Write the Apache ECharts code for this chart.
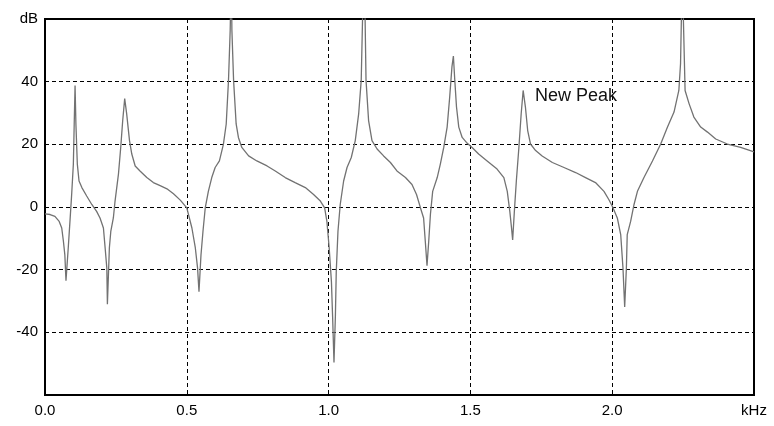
<!DOCTYPE html>
<html>
<head>
<meta charset="utf-8">
<script src="https://cdn.jsdelivr.net/npm/echarts@6/dist/echarts.min.js"></script>
<style>
html,body{margin:0;padding:0;background:#fff;}
#chart{width:774px;height:426px;}
</style>
</head>
<body>
<div id="chart"></div>
<script>
// Frequency axis (kHz)
const freqKHz = [
  0.000, 0.018, 0.035, 0.050, 0.059, 0.065, 0.070, 0.074, 0.082, 0.088, 0.094, 0.100, 0.103, 0.106, 0.109, 0.114,
  0.120, 0.130, 0.147, 0.165, 0.182, 0.194, 0.206, 0.212, 0.218, 0.220, 0.227, 0.232, 0.241, 0.247, 0.259, 0.267,
  0.274, 0.281, 0.288, 0.298, 0.306, 0.318, 0.335, 0.359, 0.382, 0.406, 0.430, 0.453, 0.477, 0.500, 0.518, 0.530,
  0.538, 0.543, 0.550, 0.557, 0.565, 0.576, 0.588, 0.600, 0.615, 0.629, 0.639, 0.647, 0.653, 0.657, 0.659, 0.665,
  0.674, 0.682, 0.694, 0.718, 0.747, 0.783, 0.812, 0.847, 0.882, 0.918, 0.947, 0.971, 0.986, 0.994, 1.002, 1.010,
  1.014, 1.019, 1.024, 1.027, 1.033, 1.041, 1.053, 1.065, 1.080, 1.094, 1.106, 1.115, 1.125, 1.132, 1.141, 1.153,
  1.171, 1.194, 1.218, 1.241, 1.271, 1.294, 1.310, 1.324, 1.335, 1.341, 1.347, 1.353, 1.359, 1.367, 1.383, 1.394,
  1.406, 1.418, 1.427, 1.435, 1.440, 1.445, 1.451, 1.459, 1.471, 1.486, 1.506, 1.529, 1.559, 1.594, 1.618, 1.630,
  1.639, 1.645, 1.649, 1.655, 1.662, 1.671, 1.679, 1.686, 1.694, 1.702, 1.712, 1.730, 1.753, 1.789, 1.830, 1.871,
  1.906, 1.941, 1.971, 1.988, 2.002, 2.018, 2.030, 2.038, 2.044, 2.050, 2.053, 2.065, 2.077, 2.089, 2.112, 2.142,
  2.171, 2.195, 2.218, 2.235, 2.241, 2.247, 2.257, 2.271, 2.288, 2.312, 2.336, 2.365, 2.406, 2.453, 2.500
];
// Level (dB)
const levelDB = [
  -2.2, -2.4, -3.0, -4.6, -6.7, -11, -15.3, -23.5, -13, -4.6, 4, 13.7, 26.5, 38.8, 26.5, 13.7,
  8.3, 6.2, 3.5, 0.8, -1.4, -3.5, -6.7, -13, -19.5, -31, -13, -7.8, -3.5, 1.9, 10.5, 19,
  27.6, 34.6, 29.7, 21.2, 16.9, 13.1, 11.5, 9.4, 7.8, 6.8, 5.8, 4.2, 2.2, -0.3, -6.7, -13,
  -19.5, -27, -15.3, -7.8, -0.3, 5, 9.4, 12.6, 14.7, 20, 26.5, 40.4, 56.5, 75, 56.5, 40.4,
  26.5, 22.2, 19, 16.3, 14.7, 13.1, 11.5, 9.4, 7.8, 6.2, 4, 1.9, -0.3, -4.6, -13, -23.9,
  -34.6, -49.6, -34.6, -20.6, -7.8, 0.8, 8.3, 12.6, 15.8, 21.2, 29.7, 40.4, 82, 40.4, 27.6, 21.2,
  18.5, 16.3, 14.2, 11.5, 9.4, 7.2, 4, -0.3, -3.5, -11, -18.7, -11, -2.4, 5, 9.4, 13.7,
  19, 25.5, 35.1, 44.8, 48.2, 40.4, 31.9, 25.5, 22.2, 20.6, 19, 16.9, 14.7, 12.1, 9.4, 5,
  -1.4, -6.7, -10.5, -1.4, 8.3, 19, 29.7, 37.2, 31.9, 24.4, 20.1, 18, 16.3, 14.2, 12.6, 11,
  9.4, 7.8, 5, 2.4, -0.1, -3.5, -8.8, -19.5, -31.9, -19.5, -8.8, -4.6, 0.8, 5, 9.4, 14.7,
  20.1, 25.5, 30.3, 37.2, 45.8, 75, 37.2, 33, 28.7, 25.5, 23.9, 21.7, 20.1, 19, 17.6
];
const annotationText = 'New Peak';
const annotationAt = [1.728, 35.4];

const chart = echarts.init(document.getElementById('chart'), null, {renderer: 'canvas'});
const font = 'Liberation Sans, Arial, sans-serif';
chart.setOption({
  animation: false,
  backgroundColor: '#fff',
  grid: {left: 45, top: 19, right: 20, bottom: 31, show: true, borderColor: '#000', borderWidth: 2, containLabel: false},
  xAxis: {
    type: 'value', min: 0, max: 2.5, interval: 0.5,
    axisLine: {show: true, onZero: false, lineStyle: {color: '#000', width: 2}},
    axisTick: {show: false},
    splitLine: {show: true, lineStyle: {color: '#000', type: [4, 3], width: 1}},
    axisLabel: {
      color: '#000', fontSize: 15, fontFamily: font, margin: 8,
      formatter: v => Math.abs(v - 2.5) < 1e-9 ? 'kHz' : v.toFixed(1)
    }
  },
  yAxis: {
    type: 'value', min: -60, max: 60, interval: 20,
    axisLine: {show: true, onZero: false, lineStyle: {color: '#000', width: 2}},
    axisTick: {show: false},
    splitLine: {show: true, lineStyle: {color: '#000', type: [4, 3], width: 1}},
    axisLabel: {
      color: '#000', fontSize: 15, fontFamily: font, margin: 7,
      formatter: v => v === 60 ? 'dB' : (v === -60 ? '' : String(v))
    }
  },
  series: [{
    type: 'line',
    data: freqKHz.map((f, i) => [f, levelDB[i]]),
    showSymbol: false,
    symbol: 'none',
    clip: true,
    lineStyle: {color: '#727272', width: 1.3},
    markPoint: {
      symbol: 'circle', symbolSize: 0, silent: true,
      data: [{coord: annotationAt, value: annotationText}],
      label: {show: true, position: 'right', distance: 0, formatter: annotationText,
        color: '#111', fontSize: 18, fontFamily: font}
    }
  }]
});
</script>
</body>
</html>
